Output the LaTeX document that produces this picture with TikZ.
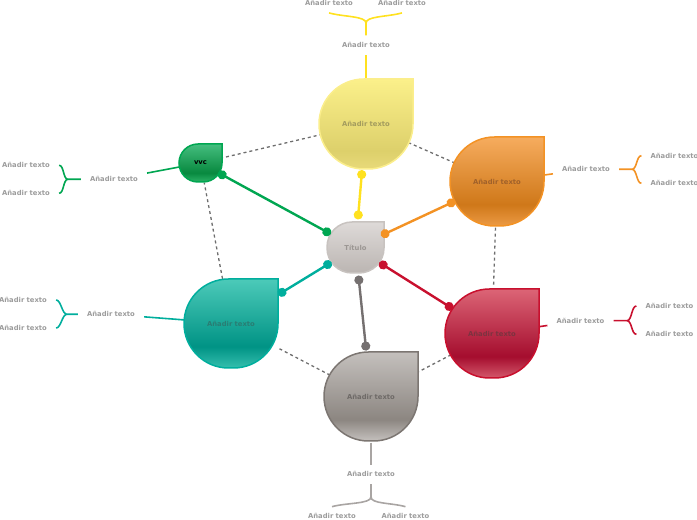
\documentclass[tikz,border=0pt]{standalone}
\usepackage{fontspec}
\setmainfont{DejaVu Sans}
\usetikzlibrary{arrows.meta}
\pgfdeclarelayer{bg}
\pgfsetlayers{bg,main}

\definecolor{lblc}{HTML}{9C9C9C}
\definecolor{dashgray}{HTML}{6E6E6E}
% yellow
\definecolor{yT}{HTML}{FBF08A}\definecolor{yM}{HTML}{DDD06B}\definecolor{yB}{HTML}{E8DA7A}
\definecolor{yBd}{HTML}{FBEE8C}\definecolor{yTx}{HTML}{A39C5E}\definecolor{yC}{HTML}{FFE11F}
% orange
\definecolor{oT}{HTML}{F6AC5E}\definecolor{oM}{HTML}{CF7819}\definecolor{oB}{HTML}{EC9A44}
\definecolor{oBd}{HTML}{F39224}\definecolor{oTx}{HTML}{A0612A}\definecolor{oC}{HTML}{F39224}
% red
\definecolor{rT}{HTML}{DC6576}\definecolor{rM}{HTML}{A50D2E}\definecolor{rB}{HTML}{D4586B}
\definecolor{rBd}{HTML}{C8102E}\definecolor{rTx}{HTML}{7C3340}\definecolor{rC}{HTML}{C8102E}
% gray
\definecolor{aT}{HTML}{C4C0BD}\definecolor{aM}{HTML}{8C8681}\definecolor{aB}{HTML}{C5C1BE}
\definecolor{aBd}{HTML}{7C7672}\definecolor{aTx}{HTML}{6E6A67}\definecolor{aC}{HTML}{757070}
\definecolor{aC2}{HTML}{A9A5A3}
% teal
\definecolor{tT}{HTML}{4CCAB9}\definecolor{tM}{HTML}{009385}\definecolor{tB}{HTML}{35BFAE}
\definecolor{tBd}{HTML}{00AE9D}\definecolor{tTx}{HTML}{2A7D73}\definecolor{tC}{HTML}{00AE9D}
% green
\definecolor{vT}{HTML}{45BE7F}\definecolor{vM}{HTML}{08893F}\definecolor{vB}{HTML}{2CB267}
\definecolor{vBd}{HTML}{00A651}\definecolor{vC}{HTML}{00A651}
% center
\definecolor{cT}{HTML}{DEDAD8}\definecolor{cB}{HTML}{BBB5B2}
\definecolor{cBd}{HTML}{C8C3C0}\definecolor{cTx}{HTML}{9B9693}

\pgfdeclareverticalshading{shY}{100bp}{color(0bp)=(yB);color(25bp)=(yB);color(35bp)=(yM);color(75bp)=(yT);color(100bp)=(yT)}
\pgfdeclareverticalshading{shO}{100bp}{color(0bp)=(oB);color(25bp)=(oB);color(37bp)=(oM);color(75bp)=(oT);color(100bp)=(oT)}
\pgfdeclareverticalshading{shR}{100bp}{color(0bp)=(rB);color(25bp)=(rB);color(37bp)=(rM);color(75bp)=(rT);color(100bp)=(rT)}
\pgfdeclareverticalshading{shA}{100bp}{color(0bp)=(aB);color(25bp)=(aB);color(37bp)=(aM);color(75bp)=(aT);color(100bp)=(aT)}
\pgfdeclareverticalshading{shT}{100bp}{color(0bp)=(tB);color(25bp)=(tB);color(37bp)=(tM);color(75bp)=(tT);color(100bp)=(tT)}
\pgfdeclareverticalshading{shV}{100bp}{color(0bp)=(vB);color(25bp)=(vB);color(37bp)=(vM);color(75bp)=(vT);color(100bp)=(vT)}
\pgfdeclareverticalshading{shC}{100bp}{color(0bp)=(cB);color(25bp)=(cB);color(75bp)=(cT);color(100bp)=(cT)}

\newcommand\tearpath[5]{(#1+#3,#2+#4) -- (#1-#3+#5,#2+#4) arc[start angle=90,end angle=180,radius=#5] -- (#1-#3,#2-#4+#5) arc[start angle=180,end angle=270,radius=#5] -- (#1+#3-#5,#2-#4) arc[start angle=270,end angle=360,radius=#5] -- cycle}

\begin{document}
\begin{tikzpicture}[x=1pt,y=1pt,
  lbl/.style={font=\fontsize{6.8}{8}\selectfont\bfseries, text=lblc, inner xsep=9pt, inner ysep=7pt, text height=5pt, text depth=0pt},
  mtxt/.style={font=\fontsize{6.8}{8}\selectfont\bfseries, circle, inner sep=0pt, minimum size=92pt},
  dashc/.style={draw=dashgray, line width=1.3pt, dash pattern=on 3pt off 3pt},
  conn/.style={line width=2.4pt, {Circle[length=9pt]}-{Circle[length=9pt]}},
  sub/.style={line width=1.6pt},
  shp/.style={line width=1.5pt}]
\useasboundingbox (0,0) rectangle (697,520);

% shapes
\shadedraw[shp, shading=shY, draw=yBd] \tearpath{366}{396}{47}{45}{45};
\shadedraw[shp, shading=shO, draw=oBd] \tearpath{497}{338.5}{47}{44.5}{44.5};
\shadedraw[shp, shading=shR, draw=rBd] \tearpath{492}{186.5}{47}{44.5}{44.5};
\shadedraw[shp, shading=shA, draw=aBd] \tearpath{371}{123.5}{47}{44.5}{44.5};
\shadedraw[shp, shading=shT, draw=tBd] \tearpath{231}{196.5}{47}{44.5}{44.5};
\shadedraw[shp, shading=shV, draw=vBd] \tearpath{200.5}{357}{21.5}{19}{19};
\shadedraw[shp, shading=shC, draw=cBd] \tearpath{355.5}{272.5}{28.5}{25.5}{25};

% main nodes
\node[mtxt, text=yTx] (Y) at (366,396) {Añadir texto};
\node[mtxt, text=oTx] (O) at (497,338.5) {Añadir texto};
\node[mtxt, text=rTx] (R) at (492,186.5) {Añadir texto};
\node[mtxt, text=aTx] (A) at (371,123.5) {Añadir texto};
\node[mtxt, text=tTx, rectangle, minimum width=94pt, minimum height=89pt] (T) at (231,196.5) {Añadir texto};
\node[mtxt, text=black, minimum size=40pt] (V) at (200.5,357) {vvc};
\node[mtxt, text=cTx, minimum size=56pt] (C) at (355.5,272.5) {Título};

% labels
\node[lbl] (ylab) at (366,475) {Añadir texto};
\node[lbl] (ys1) at (329,516.8) {Añadir texto};
\node[lbl] (ys2) at (402,516.8) {Añadir texto};
\coordinate (yj) at (366,497);

\node[lbl] (olab) at (586,350.7) {Añadir texto};
\node[lbl] (os1) at (674.5,364.3) {Añadir texto};
\node[lbl] (os2) at (674.5,336.7) {Añadir texto};
\coordinate (oj) at (632,350.7);

\node[lbl] (rlab) at (580.5,199.3) {Añadir texto};
\node[lbl] (rs1) at (669.5,214) {Añadir texto};
\node[lbl] (rs2) at (669.5,185.7) {Añadir texto};
\coordinate (rj) at (627,199.3);

\node[lbl] (alab) at (371,45.5) {Añadir texto};
\node[lbl] (as1) at (332,3.6) {Añadir texto};
\node[lbl] (as2) at (405.5,3.6) {Añadir texto};
\coordinate (aj) at (371,23);

\node[lbl] (tlab) at (111,205.7) {Añadir texto};
\node[lbl] (ts1) at (23,220) {Añadir texto};
\node[lbl] (ts2) at (23,192) {Añadir texto};
\coordinate (tj) at (67,205.7);

\node[lbl] (vlab) at (114,340.7) {Añadir texto};
\node[lbl] (vs1) at (26,354.7) {Añadir texto};
\node[lbl] (vs2) at (26,326.7) {Añadir texto};
\coordinate (vj) at (68,340.7);

\begin{pgfonlayer}{bg}
\draw[dashc] (Y) -- (O);
\draw[dashc] (O) -- (R);
\draw[dashc] (R) -- (A);
\draw[dashc] (A) -- (T);
\draw[dashc] (T) -- (V);
\draw[dashc] (V) -- (Y);

\draw[sub, draw=yC] (Y) -- (ylab);
\draw[sub, draw=oC] (O) -- (olab);
\draw[sub, draw=rC] (R) -- (rlab);
\draw[sub, draw=aC2] (A) -- (alab);
\draw[sub, draw=tC] (T) -- (tlab);
\draw[sub, draw=vC] (V) -- (vlab);
\end{pgfonlayer}

% braces
\draw[sub, draw=yC] (ylab) -- (yj) (yj) .. controls +(0,7) and +(14,-4) .. (ys1.south) (yj) .. controls +(0,7) and +(-14,-4) .. (ys2.south);
\draw[sub, draw=aC2] (alab) -- (aj) (aj) .. controls +(0,-7) and +(14,4) .. (as1.north) (aj) .. controls +(0,-7) and +(-14,4) .. (as2.north);
\draw[sub, draw=oC] (olab) -- (oj) (oj) .. controls +(5,0) and +(-5,0) .. (os1.west) (oj) .. controls +(5,0) and +(-5,0) .. (os2.west);
\draw[sub, draw=rC] (rlab) -- (rj) (rj) .. controls +(5,0) and +(-5,0) .. (rs1.west) (rj) .. controls +(5,0) and +(-5,0) .. (rs2.west);
\draw[sub, draw=tC] (tlab) -- (tj) (tj) .. controls +(-5,0) and +(5,0) .. (ts1.east) (tj) .. controls +(-5,0) and +(5,0) .. (ts2.east);
\draw[sub, draw=vC] (vlab) -- (vj) (vj) .. controls +(-5,0) and +(5,0) .. (vs1.east) (vj) .. controls +(-5,0) and +(5,0) .. (vs2.east);

% main connectors
\draw[conn, draw=yC, fill=yC] (C) -- (Y);
\draw[conn, draw=oC, fill=oC] (C) -- (O);
\draw[conn, draw=rC, fill=rC] (C) -- (R);
\draw[conn, draw=aC, fill=aC] (C) -- (A);
\draw[conn, draw=tC, fill=tC] (C) -- (T);
\draw[conn, draw=vC, fill=vC] (C) -- (V);
\end{tikzpicture}
\end{document}
